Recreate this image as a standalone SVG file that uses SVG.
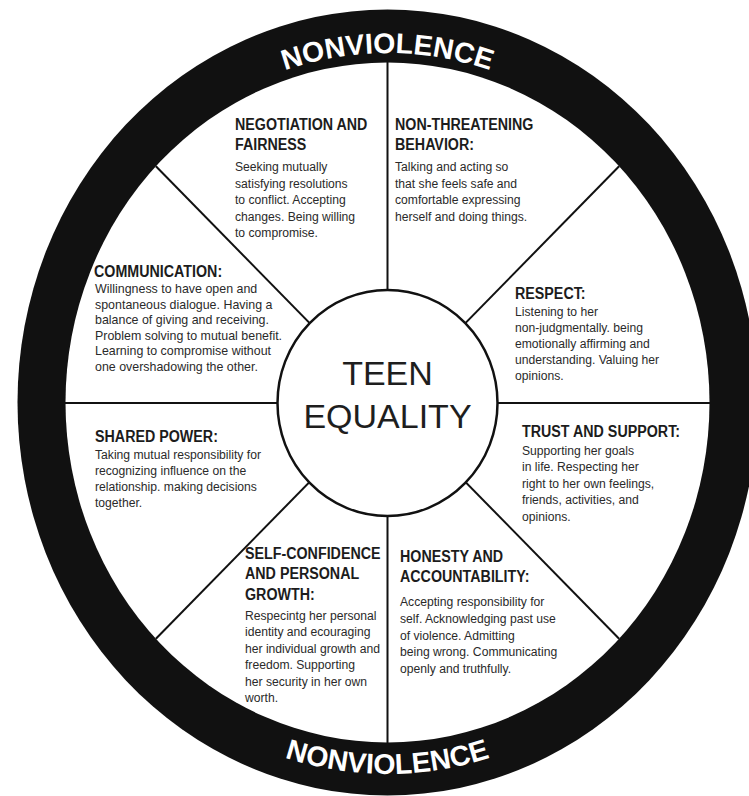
<svg xmlns="http://www.w3.org/2000/svg" width="749" height="796" viewBox="0 0 749 796">
<defs>
<style>
.t{font-family:"Liberation Sans",Arial,sans-serif;font-weight:bold;font-size:17px;fill:#1c1c1c}
.b{font-family:"Liberation Sans",Arial,sans-serif;font-size:13.5px;fill:#2a2a2a}
.nv{font-family:"Liberation Sans",Arial,sans-serif;font-weight:bold;font-size:28.5px;fill:#fff}
.c{font-family:"Liberation Sans",Arial,sans-serif;font-size:34px;fill:#1e1e1e;text-anchor:middle}
.sp{stroke:#111;stroke-width:2;fill:none}
</style>
<path id="topArc" d="M 57.5 402.5 A 330 349.5 0 0 1 717.5 402.5"/>
<path id="botArc" d="M 36.9 402.5 A 350.6 371.5 0 0 0 738.1 402.5"/>
</defs>
<rect width="749" height="796" fill="#fff"/>
<g id="ring">
<ellipse cx="387.5" cy="402.5" rx="370" ry="393" fill="#111"/>
<ellipse cx="387.5" cy="402.5" rx="322" ry="340" fill="#fff"/>
<text class="nv"><textPath href="#topArc" startOffset="50%" text-anchor="middle">NONVIOLENCE</textPath></text>
<text class="nv"><textPath href="#botArc" startOffset="50%" text-anchor="middle">NONVIOLENCE</textPath></text>
</g>
<g id="connectors">
<line class="sp" x1="387.5" y1="62" x2="387.5" y2="743"/>
<line class="sp" x1="65" y1="403" x2="710" y2="403"/>
<line class="sp" x1="155.9" y1="166.3" x2="619.1" y2="638.7"/>
<line class="sp" x1="619.1" y1="166.3" x2="155.9" y2="638.7"/>
</g>
<g id="center">
<ellipse cx="387.5" cy="403" rx="110" ry="113" fill="#fff" stroke="#111" stroke-width="2.5"/>
<text class="c" x="387.5" y="385">TEEN</text>
<text class="c" x="387.5" y="428">EQUALITY</text>
</g>
<g id="negotiation">
<g transform="translate(235 0) scale(0.84 1)"><text class="t" x="0" y="130">NEGOTIATION AND</text><text class="t" x="0" y="150">FAIRNESS</text></g>
<g transform="translate(235 0) scale(0.9 1)"><text class="b" x="0" y="171.5">Seeking mutually</text><text class="b" x="0" y="188">satisfying resolutions</text><text class="b" x="0" y="204.5">to conflict. Accepting</text><text class="b" x="0" y="221">changes. Being willing</text><text class="b" x="0" y="237.5">to compromise.</text></g>
</g>
<g id="nonthreatening">
<g transform="translate(395 0) scale(0.84 1)"><text class="t" x="0" y="130">NON-THREATENING</text><text class="t" x="0" y="150">BEHAVIOR:</text></g>
<g transform="translate(395 0) scale(0.9 1)"><text class="b" x="0" y="171.5">Talking and acting so</text><text class="b" x="0" y="188">that she feels safe and</text><text class="b" x="0" y="204.5">comfortable expressing</text><text class="b" x="0" y="221">herself and doing things.</text></g>
</g>
<g id="communication">
<g transform="translate(94 0) scale(0.84 1)"><text class="t" x="0" y="277">COMMUNICATION:</text></g>
<g transform="translate(95 0) scale(0.92 1)"><text class="b" x="0" y="293.5">Willingness to have open and</text><text class="b" x="0" y="309">spontaneous dialogue. Having a</text><text class="b" x="0" y="324.5">balance of giving and receiving.</text><text class="b" x="0" y="340">Problem solving to mutual benefit.</text><text class="b" x="0" y="355.5">Learning to compromise without</text><text class="b" x="0" y="371">one overshadowing the other.</text></g>
</g>
<g id="respect">
<g transform="translate(515 0) scale(0.84 1)"><text class="t" x="0" y="299">RESPECT:</text></g>
<g transform="translate(515 0) scale(0.9 1)"><text class="b" x="0" y="316">Listening to her</text><text class="b" x="0" y="332">non-judgmentally. being</text><text class="b" x="0" y="348">emotionally affirming and</text><text class="b" x="0" y="364">understanding. Valuing her</text><text class="b" x="0" y="380">opinions.</text></g>
</g>
<g id="sharedpower">
<g transform="translate(95 0) scale(0.84 1)"><text class="t" x="0" y="442">SHARED POWER:</text></g>
<g transform="translate(95 0) scale(0.9 1)"><text class="b" x="0" y="459">Taking mutual responsibility for</text><text class="b" x="0" y="475">recognizing influence on the</text><text class="b" x="0" y="491">relationship. making decisions</text><text class="b" x="0" y="507">together.</text></g>
</g>
<g id="trust">
<g transform="translate(522 0) scale(0.84 1)"><text class="t" x="0" y="437">TRUST AND SUPPORT:</text></g>
<g transform="translate(522 0) scale(0.9 1)"><text class="b" x="0" y="455">Supporting her goals</text><text class="b" x="0" y="471.5">in life. Respecting her</text><text class="b" x="0" y="488">right to her own feelings,</text><text class="b" x="0" y="504.5">friends, activities, and</text><text class="b" x="0" y="521">opinions.</text></g>
</g>
<g id="selfconfidence">
<g transform="translate(245 0) scale(0.84 1)"><text class="t" x="0" y="559">SELF-CONFIDENCE</text><text class="t" x="0" y="579.5">AND PERSONAL</text><text class="t" x="0" y="600">GROWTH:</text></g>
<g transform="translate(245 0) scale(0.9 1)"><text class="b" x="0" y="620">Respecintg her personal</text><text class="b" x="0" y="636.5">identity and ecouraging</text><text class="b" x="0" y="653">her individual growth and</text><text class="b" x="0" y="669.5">freedom. Supporting</text><text class="b" x="0" y="686">her security in her own</text><text class="b" x="0" y="702.5">worth.</text></g>
</g>
<g id="honesty">
<g transform="translate(400 0) scale(0.84 1)"><text class="t" x="0" y="562">HONESTY AND</text><text class="t" x="0" y="582">ACCOUNTABILITY:</text></g>
<g transform="translate(400 0) scale(0.9 1)"><text class="b" x="0" y="606">Accepting responsibility for</text><text class="b" x="0" y="623">self. Acknowledging past use</text><text class="b" x="0" y="640">of violence. Admitting</text><text class="b" x="0" y="656.5">being wrong. Communicating</text><text class="b" x="0" y="673">openly and truthfully.</text></g>
</g>
</svg>
